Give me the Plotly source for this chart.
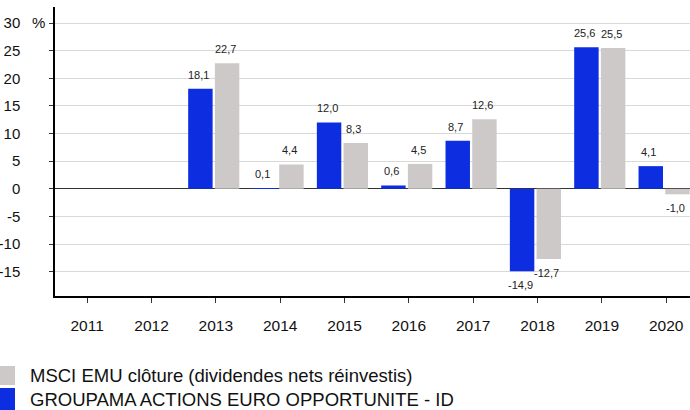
import plotly.graph_objects as go

years = ["2011", "2012", "2013", "2014", "2015", "2016", "2017", "2018", "2019", "2020"]
fund = [None, None, 18.1, 0.1, 12.0, 0.6, 8.7, -14.9, 25.6, 4.1]
index = [None, None, 22.7, 4.4, 8.3, 4.5, 12.6, -12.7, 25.5, -1.0]
y_ticks = [-15, -10, -5, 0, 5, 10, 15, 20, 25, 30]
fund_name = "GROUPAMA ACTIONS EURO OPPORTUNITE - ID"
index_name = "MSCI EMU clôture (dividendes nets réinvestis)"

BLUE = "#0C2EE0"
GRAY = "#CDC9C9"
FONT = "Liberation Sans, Arial, sans-serif"

W, H = 690, 410
L, R, T, B = 55, 0, 7, 114
pw, ph = W - L - R, H - T - B

BAR_W = 0.38
OFF_FUND = -0.43
OFF_INDEX = -0.015


def px(x):
    return (x - L) / pw


def py(y):
    return (H - B - y) / ph


xs = list(range(len(years)))

fig = go.Figure()
fig.add_trace(go.Bar(
    x=xs, y=fund, width=BAR_W, offset=OFF_FUND, marker_color=BLUE,
    marker_line_width=0, name=fund_name, showlegend=False,
))
fig.add_trace(go.Bar(
    x=xs, y=index, width=BAR_W, offset=OFF_INDEX, marker_color=GRAY,
    marker_line_width=0, name=index_name, showlegend=False,
))

shapes = []
annotations = []

# value labels, placed through the data axes
for vals, off in ((fund, OFF_FUND), (index, OFF_INDEX)):
    for xi, v in zip(xs, vals):
        if v is None:
            continue
        annotations.append(dict(
            x=xi + off + BAR_W / 2, y=v, xref="x", yref="y",
            text=f"{v:.1f}".replace(".", ","), showarrow=False,
            xanchor="center", yanchor="middle",
            yshift=14 if v >= 0 else -14, xshift=-2,
            font=dict(size=11, color="#222222", family=FONT),
        ))

# manual legend
leg = [(index_name, GRAY, 366, 385), (fund_name, BLUE, 388, 410)]
for name, col, y0, y1 in leg:
    shapes.append(dict(type="rect", xref="paper", yref="paper",
                       x0=px(0), x1=px(15), y0=py(y1), y1=py(y0),
                       fillcolor=col, line_width=0))
    annotations.append(dict(xref="paper", yref="paper", x=px(28), y=py((y0 + y1) / 2),
                            text=name, showarrow=False, xanchor="left", yanchor="middle",
                            font=dict(size=18.5, color="#111111", family=FONT)))
annotations.append(dict(xref="paper", yref="paper", x=px(47), y=py(22),
                        text="%", showarrow=False, xanchor="right", yanchor="middle",
                        font=dict(size=15, color="#111111", family=FONT)))

fig.update_layout(
    width=W, height=H,
    margin=dict(l=L, r=R, t=T, b=B, autoexpand=False),
    paper_bgcolor="white", plot_bgcolor="white",
    separators=", ",
    barmode="overlay",
    font=dict(family=FONT, size=15, color="#111111"),
    shapes=shapes, annotations=annotations,
    xaxis=dict(
        tickmode="array", tickvals=xs, ticktext=years,
        range=[-0.5, 9.37], showgrid=False, zeroline=False, automargin=False,
        showline=True, linecolor="#000000", linewidth=1.5,
        ticks="outside", ticklen=5, tickcolor="#333333",
        ticklabelstandoff=10, tickfont=dict(size=15.5),
    ),
    yaxis=dict(
        range=[-19.4, 32.9], tickmode="array", tickvals=y_ticks,
        ticktext=[str(v) for v in y_ticks], automargin=False,
        showgrid=True, gridcolor="#D9D9D9", gridwidth=1,
        zeroline=True, zerolinecolor="#333333", zerolinewidth=1,
        showline=True, linecolor="#000000", linewidth=1.5,
        ticks="outside", ticklen=4, tickcolor="#333333",
        ticklabelstandoff=26, tickfont=dict(size=15),
    ),
)

fig.write_html(
    "out.html",
    config={"displayModeBar": False},
    post_script="document.body.style.margin='0';document.body.style.overflow='hidden';",
)
